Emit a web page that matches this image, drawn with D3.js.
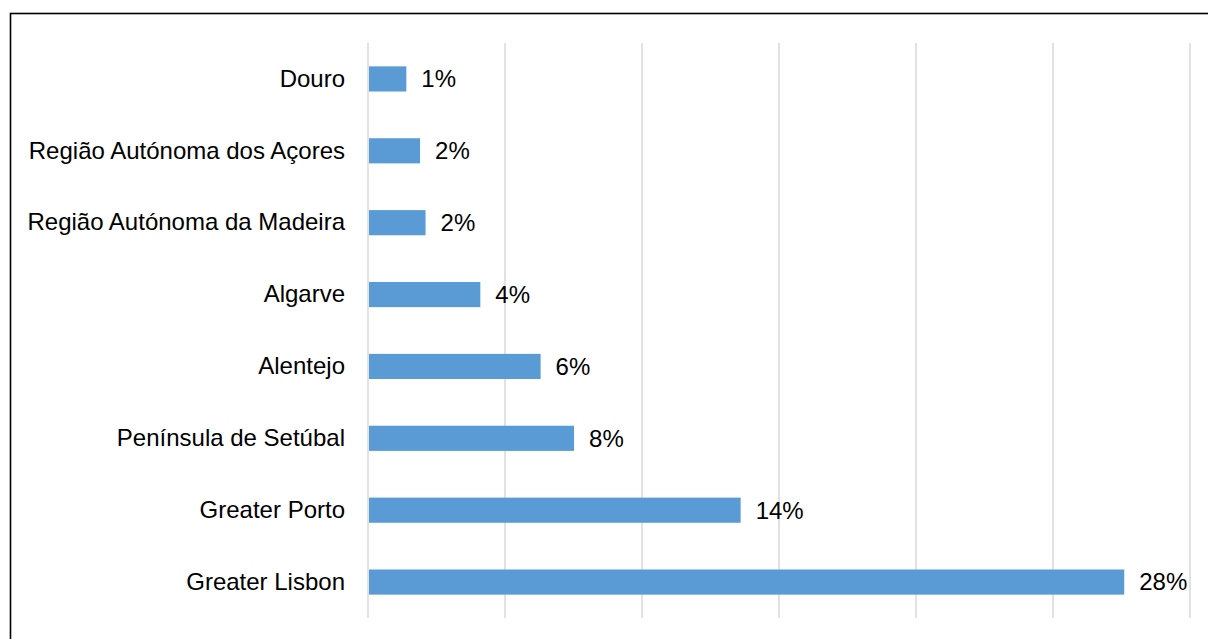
<!DOCTYPE html>
<html>
<head>
<meta charset="utf-8">
<script src="https://cdn.jsdelivr.net/npm/d3@7"></script>
<style>
  html, body { margin: 0; padding: 0; background: #fff; }
  svg { display: block; }
  text { font-family: "Liberation Sans", Arial, sans-serif; fill: #000; }
</style>
</head>
<body>
<svg id="chart" width="1208" height="639"></svg>
<script>
// Share of total by NUTS region (top to bottom)
const regions = [
  "Douro",
  "Região Autónoma dos Açores",
  "Região Autónoma da Madeira",
  "Algarve",
  "Alentejo",
  "Península de Setúbal",
  "Greater Porto",
  "Greater Lisbon"
];
const shares = [0.014, 0.019, 0.021, 0.041, 0.063, 0.0752, 0.136, 0.276];
const gridTicks = [0, 0.05, 0.10, 0.15, 0.20, 0.25, 0.30];

const svg = d3.select("#chart");
const W = 1208, H = 639;
const plot = { left: 368, right: 1190, top: 43, bottom: 618 };

// outer frame (open at the right and bottom edges of the page)
svg.append("rect")
  .attr("x", 10.5).attr("y", 13.5)
  .attr("width", W + 20).attr("height", H + 20)
  .attr("fill", "none").attr("stroke", "#000").attr("stroke-width", 1.6);

const x = d3.scaleLinear().domain([0, 0.30]).range([plot.left, plot.right]);
const y = d3.scaleBand().domain(regions).range([plot.top, plot.bottom])
  .paddingInner(0.65).paddingOuter(0.325);

// vertical gridlines
svg.append("g").selectAll("line").data(gridTicks).join("line")
  .attr("x1", d => x(d)).attr("x2", d => x(d))
  .attr("y1", plot.top).attr("y2", plot.bottom)
  .attr("stroke", "#d9d9d9").attr("stroke-width", 1.5);

const data = regions.map((r, i) => ({ region: r, value: shares[i] }));

// bars
svg.append("g").selectAll("rect").data(data).join("rect")
  .attr("x", x(0) + 1)
  .attr("y", d => y(d.region))
  .attr("width", d => x(d.value) - x(0) - 1)
  .attr("height", y.bandwidth())
  .attr("fill", "#5b9bd5");

// category labels
const yAxis = d3.axisLeft(y).tickSize(0).tickPadding(23);
const ga = svg.append("g").attr("transform", `translate(${plot.left},0)`).call(yAxis);
ga.select(".domain").remove();
ga.selectAll("text")
  .style("font-family", '"Liberation Sans", Arial, sans-serif')
  .style("font-size", "24px").attr("fill", "#000");

// value labels
const fmt = d3.format(".0%");
svg.append("g").selectAll("text").data(data).join("text")
  .attr("x", d => x(d.value) + 15)
  .attr("y", d => y(d.region) + y.bandwidth() / 2)
  .attr("dy", "0.35em")
  .style("font-size", "24px")
  .text(d => fmt(d.value));
</script>
</body>
</html>
